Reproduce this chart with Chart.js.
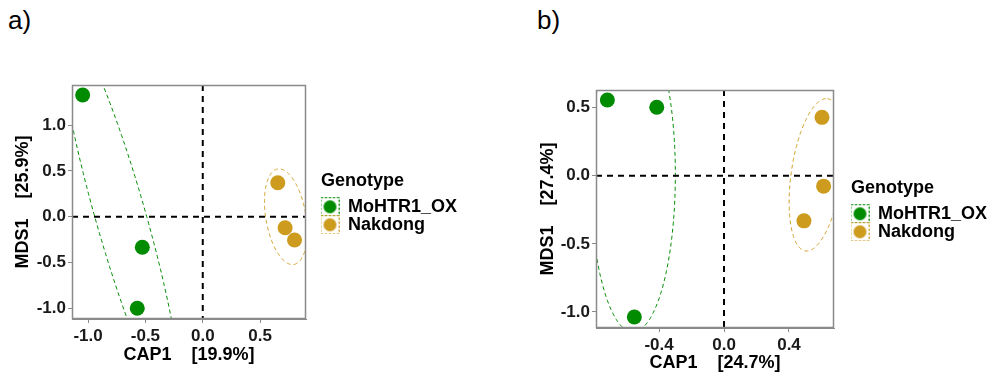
<!DOCTYPE html>
<html>
<head>
<meta charset="utf-8">
<script src="https://cdn.jsdelivr.net/npm/chart.js@4.4.0/dist/chart.umd.min.js"></script>
<style>
html,body{margin:0;padding:0;background:#fff;}
body{width:999px;height:376px;position:relative;overflow:hidden;font-family:"Liberation Sans",Arial,sans-serif;}
.tag{position:absolute;top:5px;font-size:26px;color:#000;}
canvas{position:absolute;top:0;}
</style>
</head>
<body>
<div class="tag" style="left:8px">a)</div>
<div class="tag" style="left:537px">b)</div>
<canvas id="ca" width="520" height="376" style="left:0"></canvas>
<canvas id="cb" width="469" height="376" style="left:530px"></canvas>
<script>
const genotypes=["MoHTR1_OX","Nakdong"];
const colors=["#008B00","#CD9B1D"];

// panel a
const aGreenX=[-1.047,-0.527,-0.571];
const aGreenY=[1.33,-0.334,-1.0];
const aOrangeX=[0.654,0.718,0.80];
const aOrangeY=[0.372,-0.12,-0.255];
const aXTicks=[-1.0,-0.5,0.0,0.5];
const aYTicks=[-1.0,-0.5,0.0,0.5,1.0];
const aXRange=[-1.14,0.90];
const aYRange=[-1.118,1.44];
// ellipse: centre x,y then two conjugate semi-axis vectors
const aGreenEll=[-0.715,0.0,0.477,-2.103,0.210,0.0747];
const aOrangeEll=[0.724,0.0,0.071,-0.522,0.172,0.0366];

// panel b
const bGreenX=[-0.718,-0.414,-0.552];
const bGreenY=[0.557,0.503,-1.037];
const bOrangeX=[0.603,0.613,0.492];
const bOrangeY=[0.429,-0.076,-0.331];
const bXTicks=[-0.4,0.0,0.4];
const bYTicks=[-1.0,-0.5,0.0,0.5];
const bXRange=[-0.788,0.677];
const bYRange=[-1.118,0.63];
const bGreenEll=[-0.561,0.008,0.0,-1.155,0.2615,0.0];
const bOrangeEll=[0.569,0.007,0.0677,0.559,0.154,-0.0265];

const FONT='"Liberation Sans", Arial, sans-serif';
const GREY='#8a8a8a';
const LEG=18;
const TPAD={top:2,bottom:4};
// title line + two entries
const legH=LEG*1.2+TPAD.top+TPAD.bottom+genotypes.length*LEG;

function toPts(xs,ys){
return xs.map((x,i)=>({x:x,y:ys[i]}));
}

// legend key: dashed square with a dot, like ggplot's ellipse+point key
function makeKey(col){
const c=document.createElement('canvas');
c.width=19;c.height=19;
const g=c.getContext('2d');
g.setLineDash([2,2]);
g.strokeStyle=col;
g.lineWidth=1;
g.strokeRect(0.5,0.5,18,18);
g.setLineDash([]);
g.fillStyle=col;
g.beginPath();
g.arc(9.5,9.5,6.5,0,Math.PI*2);
g.fill();
return c;
}
const keys=colors.map(makeKey);

const deco={
id:'deco',
// legend sits in the chart area box; move it out to the right of the panel, centred
afterLayout(chart,args,opts){
const lg=chart.legend;
const a=chart.chartArea;
lg.left=a.right+opts.legendGap;
lg.right=lg.left+lg.width;
lg.top=a.top+(a.bottom-a.top-legH)/2;
lg.height=legH+2;
lg.bottom=lg.top+lg.height;
},
beforeDatasetsDraw(chart,args,opts){
const {ctx,chartArea:a,scales:{x,y}}=chart;
ctx.save();
ctx.beginPath();
ctx.rect(a.left,a.top,a.width,a.height);
ctx.clip();
ctx.lineWidth=1;
ctx.setLineDash([4,3]);
opts.ellipses.forEach((e,i)=>{
ctx.strokeStyle=colors[i];
ctx.beginPath();
for(let k=0;k<=360;k++){
const t=k*Math.PI/180;
const px=x.getPixelForValue(e[0]+e[2]*Math.cos(t)+e[4]*Math.sin(t));
const py=y.getPixelForValue(e[1]+e[3]*Math.cos(t)+e[5]*Math.sin(t));
if(k===0)ctx.moveTo(px,py);else ctx.lineTo(px,py);
}
ctx.stroke();
});
ctx.strokeStyle='#000';
ctx.lineWidth=2;
ctx.setLineDash([6,5]);
const x0=x.getPixelForValue(0);
const y0=y.getPixelForValue(0);
ctx.beginPath();
ctx.moveTo(x0,a.top);ctx.lineTo(x0,a.bottom);
ctx.moveTo(a.left,y0);ctx.lineTo(a.right,y0);
ctx.stroke();
ctx.restore();
},
afterDraw(chart){
const {ctx,chartArea:a}=chart;
ctx.save();
ctx.strokeStyle=GREY;
ctx.lineWidth=1.5;
ctx.strokeRect(a.left+0.5,a.top+0.5,a.width-1,a.height-1);
ctx.restore();
}
};

function makeChart(id,p){
const cv=document.getElementById(id);
return new Chart(cv,{
type:'scatter',
data:{
datasets:[
{label:genotypes[0],data:toPts(p.gx,p.gy),backgroundColor:colors[0],borderWidth:0,pointRadius:7.5,pointHoverRadius:7.5},
{label:genotypes[1],data:toPts(p.ox,p.oy),backgroundColor:colors[1],borderWidth:0,pointRadius:7.5,pointHoverRadius:7.5}
]
},
options:{
responsive:false,
animation:false,
devicePixelRatio:1,
layout:{padding:{top:p.top,left:0,right:cv.width-p.right,bottom:0}},
scales:{
x:{
type:'linear',
min:p.xr[0],max:p.xr[1],
afterBuildTicks:s=>{s.ticks=p.xt.map(v=>({value:v}));},
afterFit:s=>{s.height=p.xh;},
grid:{display:true,drawOnChartArea:false,drawTicks:true,tickLength:4,color:GREY},
border:{display:true,color:GREY},
ticks:{padding:3,color:'#1a1a1a',font:{family:FONT,size:17,weight:'bold'},callback:v=>v.toFixed(1),maxRotation:0},
title:{display:true,text:p.xTitle,color:'#000',font:{family:FONT,size:18,weight:'bold'},padding:{top:0,bottom:p.xtp}}
},
y:{
type:'linear',
min:p.yr[0],max:p.yr[1],
afterBuildTicks:s=>{s.ticks=p.yt.map(v=>({value:v}));},
afterFit:s=>{s.width=p.yw;},
grid:{display:true,drawOnChartArea:false,drawTicks:true,tickLength:4,color:GREY},
border:{display:true,color:GREY},
ticks:{padding:2,color:'#1a1a1a',font:{family:FONT,size:17,weight:'bold'},callback:v=>v.toFixed(1)},
title:{display:true,text:p.yTitle,color:'#000',font:{family:FONT,size:18,weight:'bold'},padding:{top:p.ytp,bottom:0}}
}
},
plugins:{
tooltip:{enabled:false},
deco:{ellipses:p.ell,legendGap:p.gap},
legend:{
display:true,
position:'chartArea',
align:'start',
title:{display:true,text:'Genotype',position:'start',color:'#000',font:{family:FONT,size:LEG,weight:'bold'},padding:TPAD},
labels:{
usePointStyle:true,
boxWidth:LEG,
padding:0,
color:'#000',
font:{family:FONT,size:LEG,weight:'bold'},
generateLabels:chart=>{
const items=Chart.defaults.plugins.legend.labels.generateLabels(chart);
items.forEach((it,i)=>{it.pointStyle=keys[i];});
return items;
}
}
}
}
},
plugins:[deco]
});
}

makeChart('ca',{
gx:aGreenX,gy:aGreenY,ox:aOrangeX,oy:aOrangeY,
xt:aXTicks,yt:aYTicks,xr:aXRange,yr:aYRange,
ell:[aGreenEll,aOrangeEll],
top:85,right:306,xh:57,yw:72,xtp:10.5,ytp:12.5,gap:15,
xTitle:'CAP1    [19.9%]',yTitle:'MDS1    [25.9%]'
});

makeChart('cb',{
gx:bGreenX,gy:bGreenY,ox:bOrangeX,oy:bOrangeY,
xt:bXTicks,yt:bYTicks,xr:bXRange,yr:bYRange,
ell:[bGreenEll,bOrangeEll],
top:90,right:304,xh:48,yw:66,xtp:2,ytp:7,gap:17,
xTitle:'CAP1    [24.7%]',yTitle:'MDS1    [27.4%]'
});
</script>
</body>
</html>
